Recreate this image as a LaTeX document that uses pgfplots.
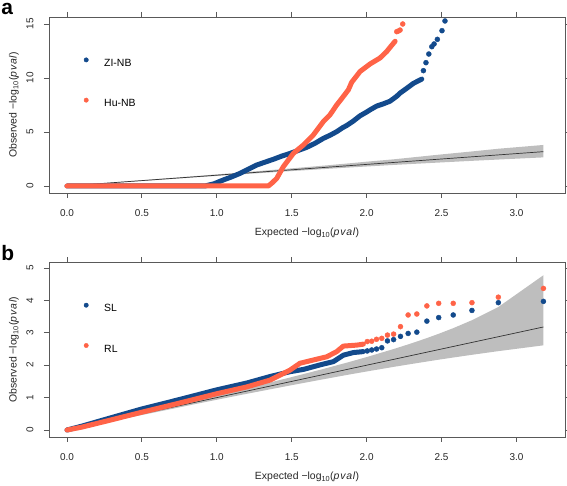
\documentclass[border=0pt]{standalone}
\usepackage{fontspec}
\setmainfont{Liberation Sans}
\usepackage{pgfplots}
\pgfplotsset{compat=1.18}
\definecolor{qblue}{HTML}{134A8C}
\definecolor{qorange}{HTML}{FF6347}
\definecolor{qband}{HTML}{BEBEBE}
\newcommand{\lab}{−log\textsubscript{10}(\textit{p\kern0.8pt v\kern0.8pt a\kern0.8pt l})}
\pgfplotsset{
  qq/.style={
    scale only axis, width=516bp,
    xmin=-0.12, xmax=3.324,
    axis line style={black!65, line width=0.9bp},
    tick align=outside, major tick length=5bp,
    tick style={black!65, line width=0.9bp},
    xtick={0,0.5,1,1.5,2,2.5,3},
    xticklabels={0.0,0.5,1.0,1.5,2.0,2.5,3.0},
    /pgf/number format/assume math mode=true,
    ticklabel style={font=\fontsize{10}{12}\selectfont, text=black!85},
    xticklabel style={yshift=-8bp},
    yticklabel style={xshift=-7bp, rotate=90, anchor=south},
    every axis x label/.style={at={(axis description cs:0.5,0)}, yshift=-40bp, anchor=center, font=\fontsize{10.5}{12}\selectfont, text=black!85},
    every axis y label/.style={at={(axis description cs:0,0.5)}, xshift=-35bp, rotate=90, anchor=center, font=\fontsize{10.5}{12}\selectfont, text=black!85},
    xlabel={Expected \lab}, ylabel={Observed \lab},
    legend cell align=left,
    legend style={draw=none, fill=none, inner sep=0pt, at={(axis description cs:0,1)}, anchor=north west,
      xshift=34.8bp, yshift=-40.5bp, row sep=30bp, font=\fontsize{10.5}{12}\selectfont,
      nodes={inner sep=0pt},
      /tikz/every odd column/.append style={column sep=15.8bp}},
    legend image code/.code={\draw[#1, mark size=2.2bp] plot coordinates {(0bp,3.7bp)};},
    dense/.style={line width=5bp, line cap=round, line join=round},
    pts/.style={only marks, mark=*, mark size=2.5bp},
  }
}
\begin{document}
\begin{tikzpicture}
\path[use as bounding box] (0,0) rectangle (567bp,486bp);
\node[anchor=north west, inner sep=0pt, font=\fontsize{21}{21}\selectfont\bfseries] at (1.2bp,483.3bp) {a};
\node[anchor=north west, inner sep=0pt, font=\fontsize{21}{21}\selectfont\bfseries] at (1.2bp,241bp) {b};
% ---------------- panel a ----------------
\begin{axis}[qq, at={(49bp,293bp)}, anchor=south west, height=176bp,
  ymin=-0.648, ymax=15.648, ytick={0,5,10,15}]
\addplot[fill=qband, draw=none, forget plot] coordinates {
 (0,0) (0.180,0.208) (0.481,0.520) (0.703,0.754) (0.879,0.941) (1.180,1.269) (1.481,1.611)
 (1.703,1.874) (1.879,2.093) (2.004,2.256) (2.180,2.47) (2.481,2.90) (2.703,3.2) (2.879,3.45) (3.180,3.80)
 (3.180,2.65) (2.879,2.45) (2.703,2.33) (2.481,2.17) (2.180,1.95) (2.004,1.809) (1.879,1.708)
 (1.703,1.559) (1.481,1.367) (1.180,1.099) (0.879,0.822) (0.703,0.654) (0.481,0.444) (0.180,0.154) (0,0)} -- cycle;
\addplot[black!80, line width=0.7bp, forget plot] coordinates {(0,0) (3.18,3.18)};
\addplot[qblue, dense, forget plot] coordinates {
 (0,0) (0.92,0) (0.98,0.2) (1.044,0.56) (1.10,0.85) (1.155,1.17) (1.21,1.55) (1.266,1.94)
 (1.32,2.2) (1.377,2.47) (1.43,2.75) (1.489,3.02) (1.545,3.3) (1.60,3.58) (1.655,3.95)
 (1.711,4.41) (1.756,4.7) (1.80,5.03) (1.84,5.4) (1.867,5.6) (1.91,6.0) (1.956,6.5)
 (2.0,6.85) (2.023,7.05) (2.067,7.4) (2.11,7.6) (2.156,7.85) (2.20,8.3) (2.223,8.6)
 (2.268,9.05) (2.312,9.5) (2.34,9.7) (2.368,9.9)};
\addplot[qblue, pts] coordinates {
 (2.379,10.68) (2.396,11.42) (2.415,12.22) (2.435,12.90) (2.450,13.15) (2.472,13.58) (2.503,14.38) (2.523,15.28)};
\addlegendentry{ZI-NB}
\addplot[qorange, dense, forget plot] coordinates {
 (0,0) (1.344,0) (1.37,0.3) (1.40,0.71) (1.444,1.79) (1.511,3.02) (1.578,3.80) (1.644,4.72)
 (1.711,5.96) (1.756,6.6) (1.80,7.5) (1.834,8.1) (1.878,8.9) (1.90,9.6) (1.956,10.6)
 (2.023,11.3) (2.089,11.85) (2.134,12.45) (2.16,12.9) (2.19,13.4)};
\addplot[qorange, pts] coordinates {
 (2.201,14.29) (2.212,14.35) (2.223,14.44) (2.241,15.0)};
\addlegendentry{Hu-NB}
\end{axis}
% ---------------- panel b ----------------
\begin{axis}[qq, at={(49bp,49bp)}, anchor=south west, height=174.7bp,
  ymin=-0.216, ymax=5.176, ytick={0,1,2,3,4,5}]
\addplot[fill=qband, draw=none, forget plot] coordinates {
 (0,0) (0.180,0.208) (0.481,0.520) (0.703,0.754) (0.879,0.941) (1.180,1.269) (1.481,1.611)
 (1.703,1.874) (1.879,2.093) (2.004,2.256) (2.180,2.499) (2.277,2.642) (2.335,2.731) (2.402,2.837)
 (2.481,2.970) (2.578,3.143) (2.703,3.389) (2.879,3.796) (3.180,4.777)
 (3.180,2.613) (2.879,2.434) (2.703,2.321) (2.578,2.237) (2.481,2.170) (2.402,2.113) (2.335,2.064)
 (2.277,2.021) (2.180,1.948) (2.004,1.809) (1.879,1.708) (1.703,1.559) (1.481,1.367) (1.180,1.099)
 (0.879,0.822) (0.703,0.654) (0.481,0.444) (0.180,0.154) (0,0)} -- cycle;
\addplot[black!80, line width=0.7bp, forget plot] coordinates {(0,0) (3.18,3.18)};
\addplot[qblue, dense, forget plot] coordinates {
 (0,0) (0.1,0.12) (0.25,0.32) (0.5,0.65) (0.75,0.94) (1.0,1.24) (1.2,1.45) (1.355,1.65)
 (1.489,1.80) (1.578,1.87) (1.689,2.01) (1.778,2.11) (1.845,2.31) (1.911,2.39) (1.978,2.42)};
\addplot[qblue, pts] coordinates {
 (2.004,2.44) (2.034,2.47) (2.066,2.50) (2.101,2.54) (2.139,2.75) (2.180,2.79) (2.226,2.89)
 (2.277,2.98) (2.335,3.02) (2.402,3.36) (2.481,3.47) (2.578,3.55) (2.703,3.69) (2.879,3.93) (3.180,3.97)};
\addlegendentry{SL}
\addplot[qorange, dense, forget plot] coordinates {
 (0,0) (0.1,0.09) (0.25,0.26) (0.5,0.55) (0.75,0.83) (1.0,1.12) (1.2,1.33) (1.355,1.54)
 (1.489,1.85) (1.555,2.06) (1.644,2.16) (1.734,2.26) (1.80,2.42) (1.845,2.59) (1.934,2.62) (1.978,2.65)};
\addplot[qorange, pts] coordinates {
 (2.004,2.73) (2.034,2.74) (2.066,2.80) (2.101,2.83) (2.139,2.93) (2.180,2.96) (2.226,3.19)
 (2.277,3.55) (2.335,3.58) (2.402,3.83) (2.481,3.91) (2.578,3.91) (2.703,3.93) (2.879,4.10) (3.180,4.37)};
\addlegendentry{RL}
\end{axis}
\end{tikzpicture}
\end{document}
